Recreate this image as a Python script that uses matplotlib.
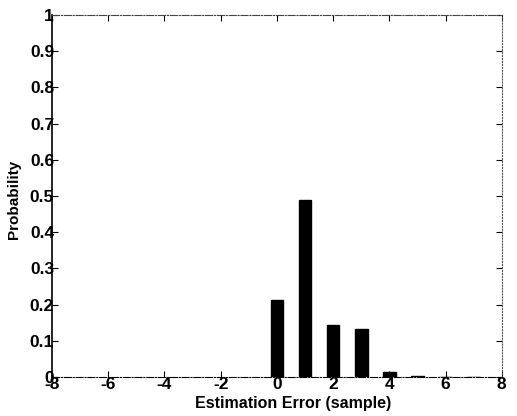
import numpy as np
from matplotlib import pyplot as plt

# estimation error histogram (probability per integer error)
errors = [0, 1, 2, 3, 4, 5, 6, 7]
probability = [0.213, 0.490, 0.143, 0.132, 0.014, 0.003, 0.001, 0.001]
x_ticks = [-8, -6, -4, -2, 0, 2, 4, 6, 8]
y_ticks = [0, 0.1, 0.2, 0.3, 0.4, 0.5, 0.6, 0.7, 0.8, 0.9, 1]
y_tick_labels = ['0', '0.1', '0.2', '0.3', '0.4', '0.5', '0.6', '0.7', '0.8', '0.9', '1']

plt.rcParams['font.family'] = ['Liberation Sans', 'DejaVu Sans']
plt.rcParams['font.weight'] = 'bold'

fig = plt.figure(figsize=(5.17, 4.16), dpi=100)
ax = fig.add_axes([0.1006, 0.0938, 0.870, 0.870])

ax.bar(errors, probability, width=0.45, color='black', edgecolor='black')

ax.set_xlim(-8, 8)
ax.set_ylim(0, 1)
ax.set_xticks(x_ticks)
ax.set_xticklabels([str(t) for t in x_ticks])
ax.set_yticks(y_ticks)
ax.set_yticklabels(y_tick_labels)
ax.tick_params(direction='in', length=4, width=0.8, labelsize=12.5,
               top=True, right=True)
ax.tick_params(axis='x', pad=0)
ax.tick_params(axis='y', pad=-1.5)

ax.spines['left'].set_linewidth(1.2)
ax.spines['bottom'].set_linestyle('-.')
ax.spines['top'].set_linestyle('-.')
ax.spines['top'].set_color('#444444')
ax.spines['right'].set_linestyle(':')
ax.spines['right'].set_color('#555555')

ax.set_xlabel('Estimation Error (sample)', fontsize=11.5, fontweight='bold')
ax.set_ylabel('Probability', fontsize=11, fontweight='bold')
ax.xaxis.set_label_coords(0.536, -0.052)
ax.yaxis.set_label_coords(-0.068, 0.49)

fig.savefig('out.png', dpi=100)
